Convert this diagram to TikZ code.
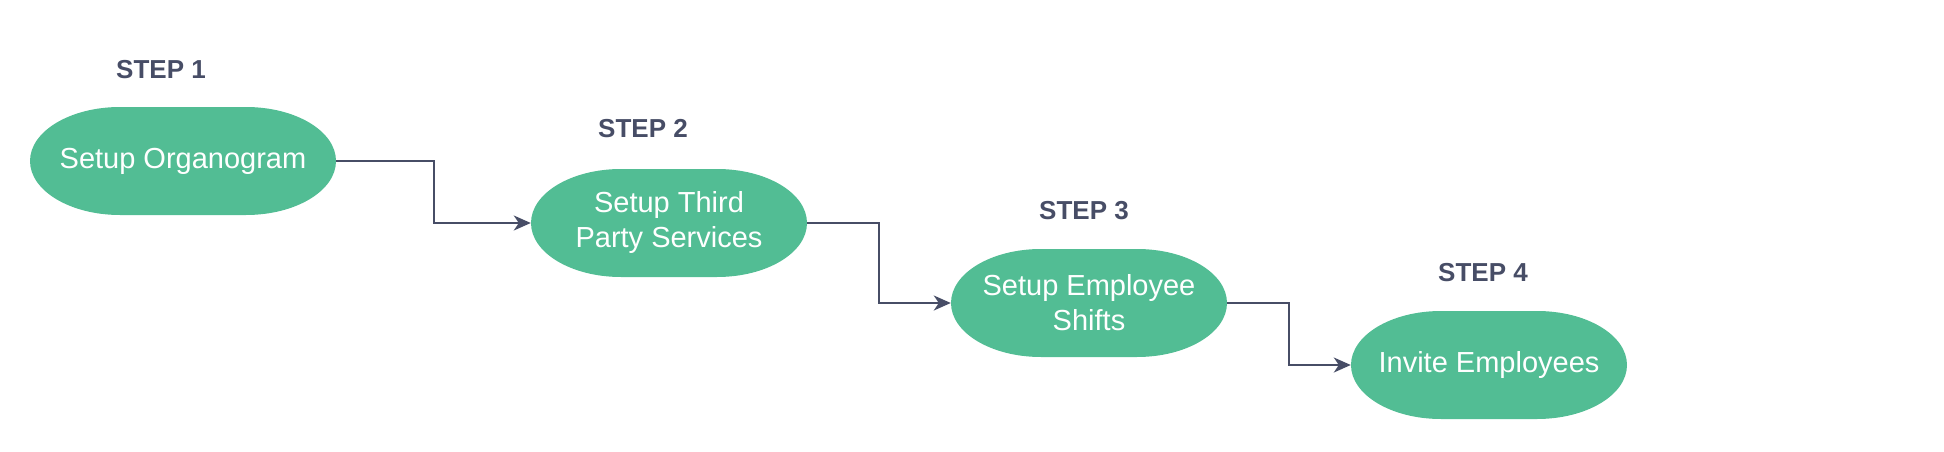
\documentclass[tikz,border=0pt]{standalone}
\usepackage{fontspec}
\setmainfont{Liberation Sans}
\usetikzlibrary{arrows.meta,calc}
\definecolor{stepgreen}{HTML}{52BD94}
\definecolor{stepgray}{HTML}{474D66}
\begin{document}
\begin{tikzpicture}[x=1pt,y=-1pt,
    stepbox/.style={minimum width=#1,minimum height=108pt,inner sep=0pt,align=center,text=white,
        font=\fontsize{29pt}{35pt}\selectfont,
        path picture={\fill[stepgreen]
            ($(path picture bounding box.north west)+(90pt,0)$) -- ($(path picture bounding box.north east)+(-90pt,0)$)
            arc[start angle=90,end angle=-90,x radius=90pt,y radius=54pt]
            -- ($(path picture bounding box.south west)+(90pt,0)$)
            arc[start angle=270,end angle=90,x radius=90pt,y radius=54pt] -- cycle;}},
    steplabel/.style={text=stepgray,font=\bfseries\fontsize{26pt}{30pt}\selectfont},
    link/.style={draw=stepgray,line width=2pt,-{Stealth[length=17pt,width=15pt,inset=5pt]}}]
                \useasboundingbox (0,0) rectangle (1944,452);

                \node[steplabel] (lab1) at (161,70) {STEP 1};
                \node[stepbox=306pt] (org) at (183,161) {Setup Organogram};
                \node[steplabel] (lab2) at (643,129) {STEP 2};
                \node[stepbox=276pt] (tps) at (669,223) {Setup Third\\Party Services};
                \node[steplabel] (lab3) at (1084,211) {STEP 3};
                \node[stepbox=276pt] (shifts) at (1089,303) {Setup Employee\\Shifts};
                \node[steplabel] (lab4) at (1483,273) {STEP 4};
                \node[stepbox=276pt] (invite) at (1489,365) {Invite Employees};

                \draw[link] (org.east) -| ($(org.east)!.5!(tps.west)$) |- (tps.west);
                \draw[link] (tps.east) -| ($(tps.east)!.5!(shifts.west)$) |- (shifts.west);
                \draw[link] (shifts.east) -| ($(shifts.east)!.5!(invite.west)$) |- (invite.west);
            \end{tikzpicture}
\end{document}
